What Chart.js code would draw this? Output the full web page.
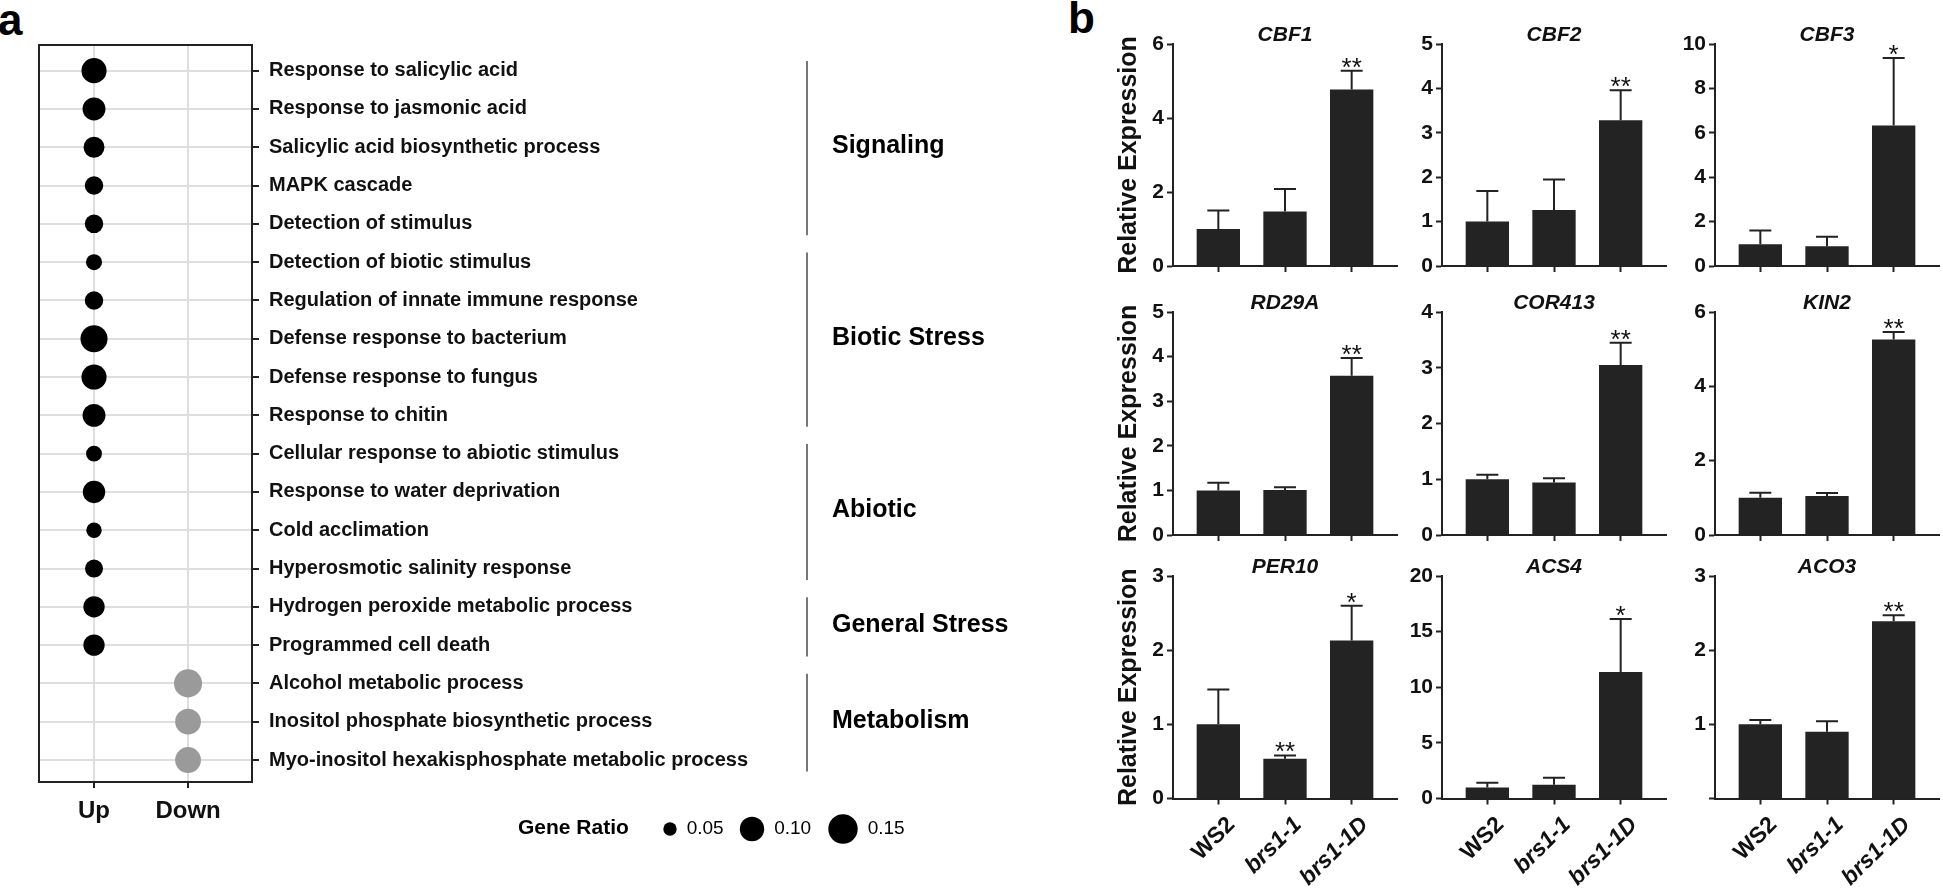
<!DOCTYPE html>
<html>
<head>
<meta charset="utf-8">
<script src="https://cdn.jsdelivr.net/npm/chart.js@4.4.0/dist/chart.umd.min.js"></script>
<style>
  body { margin: 0; background: #fff; width: 1943px; height: 894px; overflow: hidden; position: relative;
         font-family: 'Liberation Sans', Arial, Helvetica, sans-serif; }
  .panel-letter { position: absolute; font-weight: bold; font-size: 44px; line-height: 1; color: #000; }
  canvas { position: absolute; }
</style>
</head>
<body>
<div class="panel-letter" style="left:-2px;top:-2px">a</div>
<div class="panel-letter" style="left:1068px;top:-4px">b</div>
<script>
const FONT = "'Liberation Sans', Arial, Helvetica, sans-serif";
Chart.defaults.font.family = FONT;
Chart.defaults.color = '#111';

// ---- panel a : GO enrichment dot plot ----
const goTerms = [
  'Response to salicylic acid',
  'Response to jasmonic acid',
  'Salicylic acid biosynthetic process',
  'MAPK cascade',
  'Detection of stimulus',
  'Detection of biotic stimulus',
  'Regulation of innate immune response',
  'Defense response to bacterium',
  'Defense response to fungus',
  'Response to chitin',
  'Cellular response to abiotic stimulus',
  'Response to water deprivation',
  'Cold acclimation',
  'Hyperosmotic salinity response',
  'Hydrogen peroxide metabolic process',
  'Programmed cell death',
  'Alcohol metabolic process',
  'Inositol phosphate biosynthetic process',
  'Myo-inositol hexakisphosphate metabolic process'
];
const directions = ['Up', 'Down'];
const goDirection = ['Up','Up','Up','Up','Up','Up','Up','Up','Up','Up','Up','Up','Up','Up','Up','Up','Down','Down','Down'];
const geneRatio = [0.107, 0.093, 0.084, 0.073, 0.073, 0.062, 0.073, 0.127, 0.107, 0.093,
                   0.061, 0.091, 0.059, 0.071, 0.086, 0.086, 0.137, 0.114, 0.114];
const groupNames = ['Signaling', 'Biotic Stress', 'Abiotic', 'General Stress', 'Metabolism'];
const groupFirst = [1, 6, 11, 15, 17];
const groupLast = [5, 10, 14, 16, 19];
const legendRatios = [0.05, 0.10, 0.15];

// ---- panel b : qRT-PCR ----
const genes = ['CBF1', 'CBF2', 'CBF3', 'RD29A', 'COR413', 'KIN2', 'PER10', 'ACS4', 'ACO3'];
const genotypes = ['WS2', 'brs1-1', 'brs1-1D'];
const relExpr = [
  [1.0, 1.47, 4.77], [1.0, 1.26, 3.28], [0.98, 0.89, 6.33],
  [1.0, 1.01, 3.57], [1.0, 0.94, 3.05], [1.0, 1.05, 5.26],
  [1.0, 0.535, 2.13], [1.0, 1.23, 11.37], [1.0, 0.90, 2.39]
];
const relSd = [
  [0.50, 0.61, 0.51], [0.69, 0.69, 0.68], [0.62, 0.43, 3.04],
  [0.17, 0.06, 0.40], [0.08, 0.08, 0.40], [0.14, 0.08, 0.20],
  [0.47, 0.045, 0.47], [0.42, 0.63, 4.76], [0.06, 0.14, 0.08]
];
const signif = [
  ['', '', '**'], ['', '', '**'], ['', '', '*'],
  ['', '', '**'], ['', '', '**'], ['', '', '**'],
  ['', '**', '*'], ['', '', '*'], ['', '', '**']
];
const yMax = [6, 5, 10, 5, 4, 6, 3, 20, 3];
const yStep = [2, 1, 2, 1, 1, 2, 1, 5, 1];

function makeCanvas(left, top, w, h) {
  const c = document.createElement('canvas');
  c.width = w; c.height = h;
  c.style.left = left + 'px'; c.style.top = top + 'px';
  document.body.appendChild(c);
  return c;
}

// dot radius, interpolated through the legend keys
function ratioToRadius(v) {
  const rad = [6.7, 12.2, 14.7];
  if (v <= legendRatios[1]) {
    return rad[0] + (v - legendRatios[0]) / (legendRatios[1] - legendRatios[0]) * (rad[1] - rad[0]);
  }
  return rad[1] + (v - legendRatios[1]) / (legendRatios[2] - legendRatios[1]) * (rad[2] - rad[1]);
}

const goDecor = {
  id: 'goDecor',
  afterDraw(chart) {
    const { ctx, chartArea: a, scales: { y } } = chart;
    ctx.save();
    ctx.strokeStyle = '#222';
    ctx.lineWidth = 2;
    ctx.strokeRect(a.left, a.top, a.right - a.left, a.bottom - a.top);

    // category brackets
    ctx.strokeStyle = '#777';
    ctx.fillStyle = '#000';
    ctx.font = `bold 25px ${FONT}`;
    ctx.textAlign = 'left';
    ctx.textBaseline = 'middle';
    groupNames.forEach((g, i) => {
      const y1 = y.getPixelForValue(groupFirst[i] - 0.25);
      const y2 = y.getPixelForValue(groupLast[i] + 0.3);
      ctx.beginPath();
      ctx.moveTo(807, y1);
      ctx.lineTo(807, y2);
      ctx.stroke();
      ctx.fillText(g, 832, (y1 + y2) / 2 - 2);
    });

    // size legend
    ctx.font = `bold 21px ${FONT}`;
    ctx.fillText('Gene Ratio', 518, 828);
    ctx.font = `19px ${FONT}`;
    const cx = [670, 752, 843];
    legendRatios.forEach((v, i) => {
      const r = ratioToRadius(v);
      ctx.beginPath();
      ctx.arc(cx[i], 829, r, 0, Math.PI * 2);
      ctx.fill();
      ctx.fillText(v.toFixed(2), cx[i] + r + 10, 829);
    });
    ctx.restore();
  }
};

new Chart(makeCanvas(0, 0, 1060, 894), {
  type: 'bubble',
  data: {
    datasets: [{
      data: goTerms.map((t, i) => ({ x: directions.indexOf(goDirection[i]) + 1, y: i + 1, r: ratioToRadius(geneRatio[i]) })),
      backgroundColor: goDirection.map(d => d === 'Up' ? '#000' : '#9a9a9a'),
      borderWidth: 0,
      clip: false
    }]
  },
  options: {
    responsive: false,
    animation: false,
    events: [],
    layout: { padding: { left: 39, top: 45, right: 0, bottom: 0 } },
    plugins: { legend: { display: false }, tooltip: { enabled: false } },
    scales: {
      x: {
        type: 'linear', min: 0.415, max: 2.68,
        afterBuildTicks: s => { s.ticks = directions.map((d, i) => ({ value: i + 1 })); },
        afterFit: s => { s.height = 112; },
        ticks: { callback: v => directions[v - 1], font: { size: 24, weight: 'bold' }, color: '#111', padding: 9, autoSkip: false, maxRotation: 0 },
        grid: { color: '#dedede', lineWidth: 2, tickColor: '#222', tickLength: 6, tickWidth: 2 },
        border: { display: false }
      },
      y: {
        type: 'linear', position: 'right', reverse: true, min: 0.33, max: 19.574,
        afterBuildTicks: s => { s.ticks = goTerms.map((t, i) => ({ value: i + 1 })); },
        afterFit: s => { s.width = 808; },
        ticks: { callback: v => goTerms[v - 1], font: { size: 20, weight: 'bold' }, color: '#111', padding: 10, autoSkip: false },
        grid: { color: '#dedede', lineWidth: 2, tickColor: '#222', tickLength: 7, tickWidth: 2 },
        border: { display: false }
      }
    }
  },
  plugins: [goDecor]
});

// error bars, significance marks and gene titles
const barExtras = {
  id: 'barExtras',
  afterDatasetsDraw(chart, args, opts) {
    const k = opts.gene;
    const { ctx, chartArea: a, scales: { x, y } } = chart;
    ctx.save();
    ctx.strokeStyle = '#222';
    ctx.fillStyle = '#111';
    ctx.lineWidth = 2;
    relExpr[k].forEach((m, i) => {
      const px = x.getPixelForValue(i);
      const y0 = y.getPixelForValue(m);
      const y1 = y.getPixelForValue(m + relSd[k][i]);
      ctx.beginPath();
      ctx.moveTo(px, y0);
      ctx.lineTo(px, y1);
      ctx.moveTo(px - 11, y1);
      ctx.lineTo(px + 11, y1);
      ctx.stroke();
      if (signif[k][i]) {
        ctx.font = `26px ${FONT}`;
        ctx.textAlign = 'center';
        ctx.textBaseline = 'alphabetic';
        ctx.fillText(signif[k][i], px, y1 + 5);
      }
    });
    ctx.font = `italic bold 21px ${FONT}`;
    ctx.textAlign = 'center';
    ctx.textBaseline = 'middle';
    ctx.fillText(genes[k], (a.left + a.right) / 2, a.top - 9);
    ctx.restore();
  }
};

const colAxis = [1172.5, 1442, 1715];
const rowTop = [44, 312, 576];
const rowZero = [266.5, 535, 798.5];

genes.forEach((g, k) => {
  const col = k % 3, row = Math.floor(k / 3);
  const plotH = rowZero[row] - rowTop[row];
  const left = colAxis[col] - 110, top = rowTop[row] - 44;
  const h = row === 2 ? 894 - top : plotH + 64;
  const w = 338;
  new Chart(makeCanvas(left, top, w, h), {
    type: 'bar',
    data: {
      datasets: [{
        data: relExpr[k].map((v, i) => ({ x: i, y: v })),
        backgroundColor: '#232323',
        borderWidth: 0,
        categoryPercentage: 1,
        barPercentage: 0.65
      }]
    },
    options: {
      responsive: false,
      animation: false,
      events: [],
      layout: { padding: { left: 40, top: 44, right: 4, bottom: 0 } },
      plugins: { legend: { display: false }, tooltip: { enabled: false }, barExtras: { gene: k } },
      scales: {
        x: {
          type: 'linear', min: -0.68, max: 2.68, offset: false,
          afterBuildTicks: s => { s.ticks = genotypes.map((t, i) => ({ value: i })); },
          afterFit: s => { s.height = h - 44 - plotH; s.paddingLeft = 0; s.paddingRight = 0; },
          ticks: {
            display: row === 2,
            callback: v => genotypes[v],
            autoSkip: false, minRotation: 45, maxRotation: 45, padding: 7, labelOffset: 13, color: '#111',
            font: c => ({ size: 23, weight: 'bold', style: c.index === 0 ? 'normal' : 'italic' })
          },
          grid: { offset: false, drawOnChartArea: false, tickLength: 6, tickColor: '#222', tickWidth: 2 },
          border: { display: true, color: '#222', width: 2 }
        },
        y: {
          min: 0, max: yMax[k],
          afterFit: s => { s.width = 70; },
          ticks: {
            stepSize: yStep[k], padding: 3, color: '#111',
            font: { size: 21, weight: 'bold' },
            callback: v => (k === 8 && v === 0) ? '' : v
          },
          grid: { drawOnChartArea: false, tickLength: 6, tickColor: '#222', tickWidth: 2 },
          border: { display: true, color: '#222', width: 2 },
          title: {
            display: col === 0, text: 'Relative Expression', color: '#111',
            font: { size: 25, weight: 'bold' }, padding: { top: 11, bottom: 0 }
          }
        }
      }
    },
    plugins: [barExtras]
  });
});
</script>
</body>
</html>
